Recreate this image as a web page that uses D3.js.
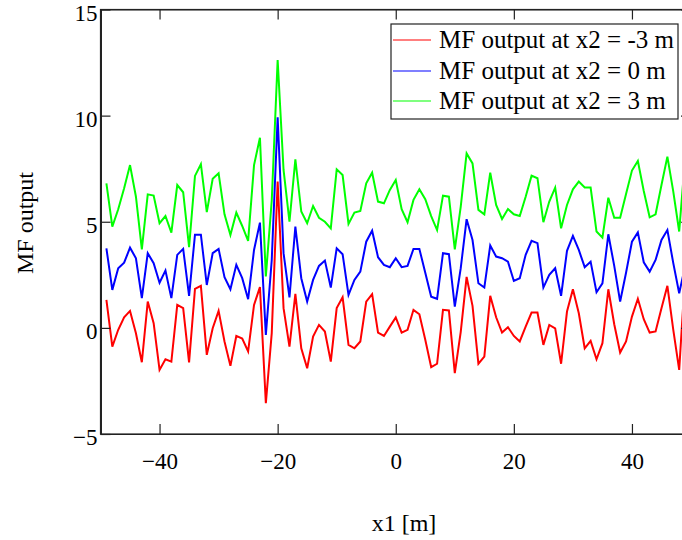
<!DOCTYPE html>
<html><head><meta charset="utf-8">
<script src="https://cdn.jsdelivr.net/npm/d3@7"></script>
<style>html,body{margin:0;padding:0;background:#fff;}svg{display:block;}</style>
</head><body>
<script>
const x1 = [-49,-48,-47,-46,-45,-44,-43,-42,-41,-40,-39,-38,-37,-36,-35,-34,-33,-32,-31,-30,-29,-28,-27,-26,-25,-24,-23,-22,-21,-20,-19,-18,-17,-16,-15,-14,-13,-12,-11,-10,-9,-8,-7,-6,-5,-4,-3,-2,-1,0,1,2,3,4,5,6,7,8,9,10,11,12,13,14,15,16,17,18,19,20,21,22,23,24,25,26,27,28,29,30,31,32,33,34,35,36,37,38,39,40,41,42,43,44,45,46,47,48,49];
const mfMinus3 = [1.32,-0.88,-0.09,0.50,0.80,-0.25,-1.62,1.24,0.22,-1.98,-1.48,-1.59,1.08,0.93,-1.63,1.84,1.98,-1.27,-0.02,0.80,-0.64,-1.79,-0.38,-0.50,-1.11,1.08,1.92,-3.55,-0.25,6.89,0.93,-0.88,1.60,-0.96,-1.90,-0.41,0.14,-0.17,-1.59,0.93,1.44,-0.80,-0.96,-0.64,1.24,1.59,-0.22,-0.38,0.06,0.49,-0.22,-0.09,0.85,0.64,-0.56,-1.85,-1.69,0.85,0.82,-2.13,-0.2,2.4,1.04,-1.69,-1.35,1.51,0.50,-0.22,0.03,-0.38,-0.64,0.06,0.72,0.72,-0.80,0.14,-0.02,-1.69,0.77,1.82,0.69,-0.96,-0.61,-1.48,-0.72,1.82,0.17,-1.16,-0.64,0.53,1.37,0.41,-0.22,-0.17,0.93,1.98,-0.09,-1.98,2.5];
const mfZero = [3.75,1.79,2.81,3.07,3.78,3.28,1.40,3.52,3.05,2.13,2.70,1.40,3.44,3.72,1.51,4.39,4.39,2.02,3.52,3.72,2.39,1.82,2.97,2.34,1.35,3.67,4.96,-0.33,3.2,9.92,3.52,1.44,4.77,2.34,1.24,2.26,2.92,3.17,1.90,3.75,3.47,1.55,2.26,2.65,4.06,4.58,3.33,2.97,2.86,3.28,2.86,2.92,3.72,3.72,2.60,1.47,1.37,3.52,3.47,1.00,2.8,5.12,4.14,2.10,1.90,3.88,3.36,3.28,3.12,2.21,2.34,3.44,4.10,3.99,1.90,2.50,2.81,1.51,3.63,4.33,3.67,2.86,3.12,1.68,2.10,4.41,2.92,1.24,2.60,4.06,4.50,3.09,2.65,3.20,4.14,4.61,3.05,1.63,2.9];
const mfPlus3 = [6.81,4.77,5.59,6.58,7.67,6.18,3.70,6.29,6.23,4.93,5.27,4.49,6.73,6.39,3.80,7.16,7.71,5.45,7.02,7.28,5.35,4.38,5.43,4.80,4.10,7.67,8.96,2.42,6.0,12.62,7.44,5.00,7.94,5.48,4.93,5.74,5.19,5.00,4.69,7.47,7.20,4.90,5.43,5.51,6.81,7.31,5.95,5.87,6.50,6.97,5.59,4.98,6.03,6.53,6.06,5.27,4.61,6.23,6.18,3.70,5.7,8.22,7.75,5.56,5.35,7.31,5.79,5.13,5.60,5.35,5.27,6.18,7.17,7.05,4.98,5.95,6.61,4.69,5.79,6.53,6.89,6.61,6.61,4.54,4.25,6.13,5.19,5.19,6.31,7.41,7.86,6.45,5.21,5.35,6.73,8.07,6.42,4.54,8.0];
const seriesNames = ["MF output at x2 = -3 m","MF output at x2 = 0 m","MF output at x2 = 3 m"];
const seriesColors = ["#ff0000","#0000ff","#00ff00"];
const xTicks = [-40,-20,0,20,40];
const yTicks = [-5,0,5,10,15];

const W = 682, H = 540;
const L = 100.5, R = 691, T = 9.5, B = 434;
const svg = d3.select("body").append("svg").attr("width", W).attr("height", H);
const x = d3.scaleLinear().domain([-50, 50]).range([L, R]);
const y = d3.scaleLinear().domain([-5, 15]).range([B, T]);
const font = "'Liberation Serif','Times New Roman',serif";

svg.append("defs").append("clipPath").attr("id","clip")
  .append("rect").attr("x", L).attr("y", T).attr("width", R-L).attr("height", B-T);

const allSeries = [mfMinus3, mfZero, mfPlus3];
const line = d3.line().x((d,i)=>x(x1[i])).y(d=>y(d));
const g = svg.append("g").attr("clip-path","url(#clip)");
[2,1,0].forEach(k => {
  g.append("path").datum(allSeries[k]).attr("d", line)
    .attr("fill","none").attr("stroke", seriesColors[k]).attr("stroke-width", 2)
    .attr("stroke-linejoin","miter");
});

// frame
svg.append("rect").attr("x", L).attr("y", T).attr("width", R-L).attr("height", B-T)
  .attr("fill","none").attr("stroke","#222").attr("stroke-width",1.2);

const fmt = d=>d<0?"\u2212"+Math.abs(d):d;
const axB = svg.append("g").attr("transform",`translate(0,${B})`)
  .call(d3.axisBottom(x).tickValues(xTicks).tickSizeInner(-10).tickSizeOuter(0).tickPadding(19).tickFormat(fmt));
const axT = svg.append("g").attr("transform",`translate(0,${T})`)
  .call(d3.axisTop(x).tickValues(xTicks).tickSizeInner(-10).tickSizeOuter(0).tickFormat(""));
const axL = svg.append("g").attr("transform",`translate(${L},0)`)
  .call(d3.axisLeft(y).tickValues(yTicks).tickSizeInner(-10).tickSizeOuter(0).tickPadding(3).tickFormat(fmt));
const axR = svg.append("g").attr("transform",`translate(${R},0)`)
  .call(d3.axisRight(y).tickValues(yTicks).tickSizeInner(-10).tickSizeOuter(0).tickFormat(""));
[axB,axT,axL,axR].forEach(a=>{
  a.select(".domain").attr("stroke","#222").attr("stroke-width",1.2);
  a.selectAll(".tick line").attr("stroke","#222").attr("stroke-width",1.2);
  a.selectAll("text").attr("fill","#000").style("font-family",font).style("font-size","23px");
});
axL.selectAll(".domain").attr("stroke-width",2);
axL.selectAll("text").attr("dy","0.47em");

// axis labels
svg.append("text").attr("x", 404).attr("y", 531).attr("text-anchor","middle")
  .style("font-family",font).style("font-size","24px").text("x1 [m]");
svg.append("text").attr("transform","translate(33,223) rotate(-90)").attr("text-anchor","middle")
  .style("font-family",font).style("font-size","24px").text("MF output");

// legend
const lg = svg.append("g");
lg.append("rect").attr("x",391).attr("y",24).attr("width",287).attr("height",95)
  .attr("fill","#fff").attr("stroke","#222").attr("stroke-width",1.2);
const rowsY = [40,71,101];
seriesNames.forEach((n,i)=>{
  lg.append("line").attr("x1",393).attr("x2",431).attr("y1",rowsY[i]).attr("y2",rowsY[i])
    .attr("stroke",seriesColors[i]).attr("stroke-width",1.2);
  lg.append("text").attr("x",439).attr("y",rowsY[i]+8).style("font-family",font).style("font-size","25px")
    .attr("fill","#000").text(n);
});
</script>
</body></html>
